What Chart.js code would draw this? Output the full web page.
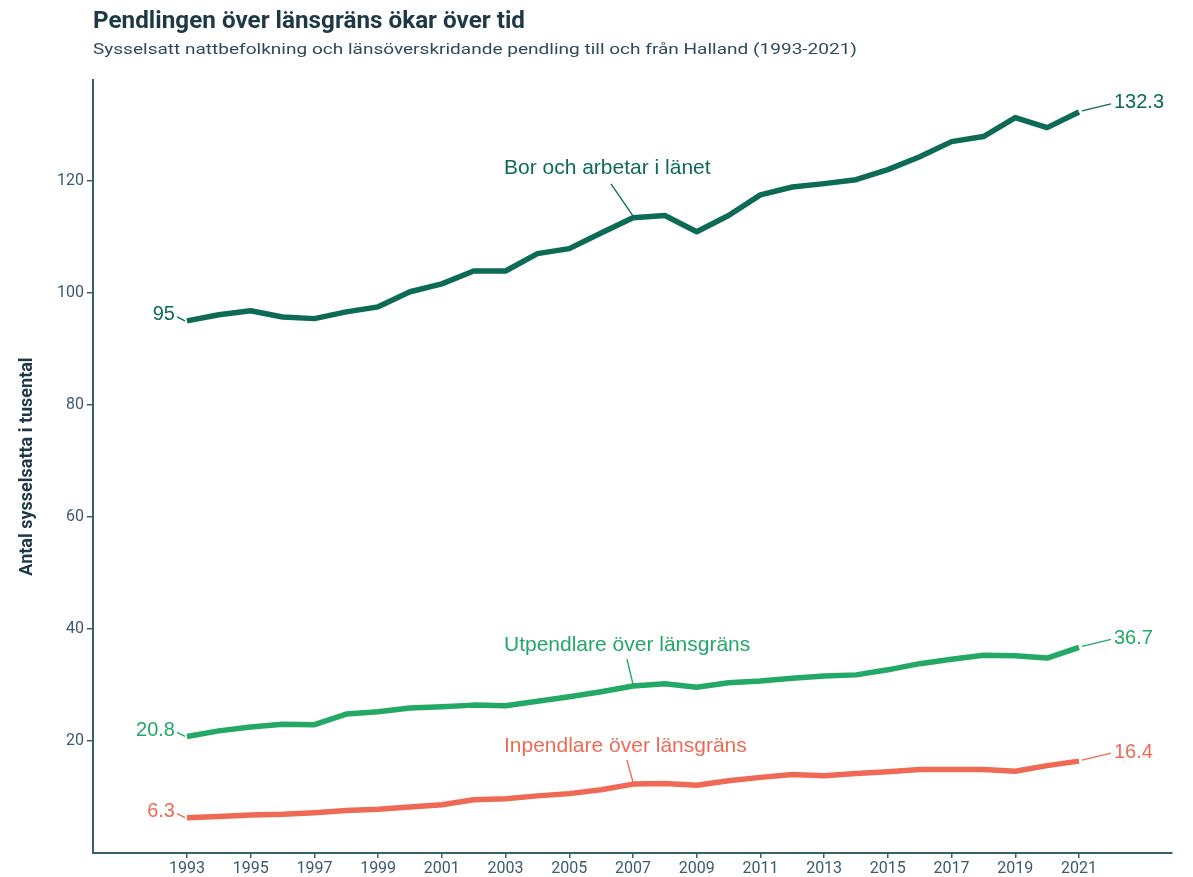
<!DOCTYPE html>
<html>
<head>
<meta charset="utf-8">
<script src="https://cdn.jsdelivr.net/npm/chart.js@4"></script>
<style>
  html, body { margin: 0; padding: 0; background: #fff; }
  #wrap { width: 1193px; height: 877px; }
</style>
</head>
<body>
<div id="wrap"><canvas id="myChart" width="1193" height="877"></canvas></div>
<script>
  // data (thousands)
  var years = [1993, 1994, 1995, 1996, 1997, 1998, 1999, 2000, 2001, 2002, 2003, 2004, 2005, 2006, 2007,
    2008, 2009, 2010, 2011, 2012, 2013, 2014, 2015, 2016, 2017, 2018, 2019, 2020, 2021];
  var bor_values = [95, 96.1, 96.8, 95.7, 95.4, 96.6, 97.5, 100.2, 101.6, 103.9, 103.9, 107, 107.9, 110.7, 113.4,
    113.8, 110.9, 113.8, 117.5, 118.9, 119.5, 120.2, 122, 124.3, 127, 127.9, 131.3, 129.5, 132.3];
  var ut_values = [20.8, 21.8, 22.5, 23.0, 22.9, 24.8, 25.2, 25.9, 26.1, 26.4, 26.3, 27.1, 27.9, 28.8, 29.8,
    30.2, 29.6, 30.4, 30.7, 31.2, 31.6, 31.8, 32.7, 33.8, 34.6, 35.3, 35.2, 34.8, 36.7];
  var in_values = [6.3, 6.5, 6.8, 6.9, 7.2, 7.6, 7.8, 8.2, 8.6, 9.5, 9.7, 10.2, 10.6, 11.3, 12.3,
    12.4, 12.1, 12.9, 13.5, 14.0, 13.8, 14.2, 14.5, 14.9, 14.9, 14.9, 14.6, 15.6, 16.4];
  var series_names = ['Bor och arbetar i länet', 'Utpendlare över länsgräns', 'Inpendlare över länsgräns'];
  var x_ticks = [1993, 1995, 1997, 1999, 2001, 2003, 2005, 2007, 2009, 2011, 2013, 2015, 2017, 2019, 2021];
  var y_ticks = [20, 40, 60, 80, 100, 120];
  var title_text = 'Pendlingen över länsgräns ökar över tid';
  var subtitle_text = 'Sysselsatt nattbefolkning och länsöverskridande pendling till och från Halland (1993-2021)';
  var y_title = 'Antal sysselsatta i tusental';

  var colors = ['#0d6b55', '#23a866', '#ef6a55'];
  var axisColor = '#36606f';
  var tickColor = '#3c5b6c';
  var labelYear = 2007;
  // per-series placement of the name label (pixels relative to the 2007 point)
  var nameOffset = [
    { dy: -50, lx: -22, ly: -34 },
    { dy: -41, lx: -6, ly: -27 },
    { dy: -38, lx: -6, ly: -24 }
  ];

  function toPoints(vals) {
    return vals.map(function (v, i) { return { x: years[i], y: v }; });
  }

  var labelPlugin = {
    id: 'labels',
    afterDatasetsDraw: function (chart) {
      var ctx = chart.ctx;
      var xs = chart.scales.x, ys = chart.scales.y;
      ctx.save();
      // title and subtitle
      ctx.fillStyle = '#1e3946';
      ctx.textBaseline = 'alphabetic';
      ctx.textAlign = 'left';
      ctx.font = 'bold 23px Roboto';
      var w = ctx.measureText(title_text).width;
      ctx.save();
      ctx.translate(93, 28);
      ctx.scale(432 / w, 1);
      ctx.fillText(title_text, 0, 0);
      ctx.restore();
      ctx.fillStyle = '#2f4a58';
      ctx.font = '15px Roboto';
      var w2 = ctx.measureText(subtitle_text).width;
      ctx.save();
      ctx.translate(93, 54);
      ctx.scale(764 / w2, 1);
      ctx.fillText(subtitle_text, 0, 0);
      ctx.restore();

      chart.data.datasets.forEach(function (ds, i) {
        var c = colors[i];
        var first = ds.data[0], last = ds.data[ds.data.length - 1];
        var p0x = xs.getPixelForValue(first.x), p0y = ys.getPixelForValue(first.y);
        var p1x = xs.getPixelForValue(last.x), p1y = ys.getPixelForValue(last.y);
        ctx.strokeStyle = c;
        ctx.fillStyle = c;
        ctx.lineWidth = 1.4;
        ctx.font = '20px "Liberation Sans", Arial';
        ctx.textBaseline = 'middle';
        // start value
        ctx.beginPath();
        ctx.moveTo(p0x - 10, p0y - 4);
        ctx.lineTo(p0x - 2, p0y);
        ctx.stroke();
        ctx.textAlign = 'right';
        ctx.fillText(String(first.y), p0x - 12, p0y - 6);
        // end value
        ctx.beginPath();
        ctx.moveTo(p1x + 3, p1y - 1);
        ctx.lineTo(p1x + 32, p1y - 8);
        ctx.stroke();
        ctx.textAlign = 'left';
        ctx.fillText(String(last.y), p1x + 35, p1y - 9);
        // series name
        var k = years.indexOf(labelYear);
        var px = xs.getPixelForValue(labelYear), py = ys.getPixelForValue(ds.data[k].y);
        var o = nameOffset[i];
        ctx.font = '21px "Liberation Sans", Arial';
        ctx.beginPath();
        ctx.moveTo(px + o.lx, py + o.ly);
        ctx.lineTo(px, py - 2);
        ctx.stroke();
        ctx.textAlign = 'left';
        ctx.fillText(series_names[i], px - 129, py + o.dy);
      });
      ctx.restore();
    }
  };

  var ctx = document.getElementById('myChart');
  var myChart = new Chart(ctx, {
    type: 'line',
    data: {
      datasets: [
        { label: series_names[0], data: toPoints(bor_values), borderColor: colors[0] },
        { label: series_names[1], data: toPoints(ut_values), borderColor: colors[1] },
        { label: series_names[2], data: toPoints(in_values), borderColor: colors[2] }
      ]
    },
    options: {
      responsive: false,
      animation: false,
      layout: { padding: { top: 80, right: 21, left: 0, bottom: 0 } },
      elements: {
        line: { borderWidth: 5.5, tension: 0, borderJoinStyle: 'round', fill: false },
        point: { radius: 0 }
      },
      plugins: { legend: { display: false }, tooltip: { enabled: false } },
      scales: {
        x: {
          type: 'linear',
          min: 1990.05,
          max: 2023.92,
          afterBuildTicks: function (s) { s.ticks = x_ticks.map(function (v) { return { value: v }; }); },
          afterFit: function (s) { s.height = 24; },
          ticks: {
            color: tickColor,
            font: { family: 'Roboto', size: 16 },
            padding: 1,
            maxRotation: 0,
            autoSkip: false,
            callback: function (v) { return String(v); }
          },
          grid: { display: true, drawOnChartArea: false, drawTicks: true, tickLength: 5, color: axisColor, lineWidth: 1.5 },
          border: { display: true, color: axisColor, width: 2 }
        },
        y: {
          min: 0,
          max: 138,
          afterBuildTicks: function (s) { s.ticks = y_ticks.map(function (v) { return { value: v }; }); },
          afterFit: function (s) { s.width = 93; },
          ticks: {
            color: tickColor,
            font: { family: 'Roboto', size: 16 },
            padding: 3
          },
          title: {
            display: true,
            text: y_title,
            color: '#1e3946',
            font: { family: 'Roboto', size: 18, weight: 'bold' },
            padding: { top: 17, bottom: 0 }
          },
          grid: { display: true, drawOnChartArea: false, drawTicks: true, tickLength: 6, color: axisColor, lineWidth: 1.5 },
          border: { display: true, color: axisColor, width: 2 }
        }
      }
    },
    plugins: [labelPlugin]
  });
</script>
</body>
</html>
